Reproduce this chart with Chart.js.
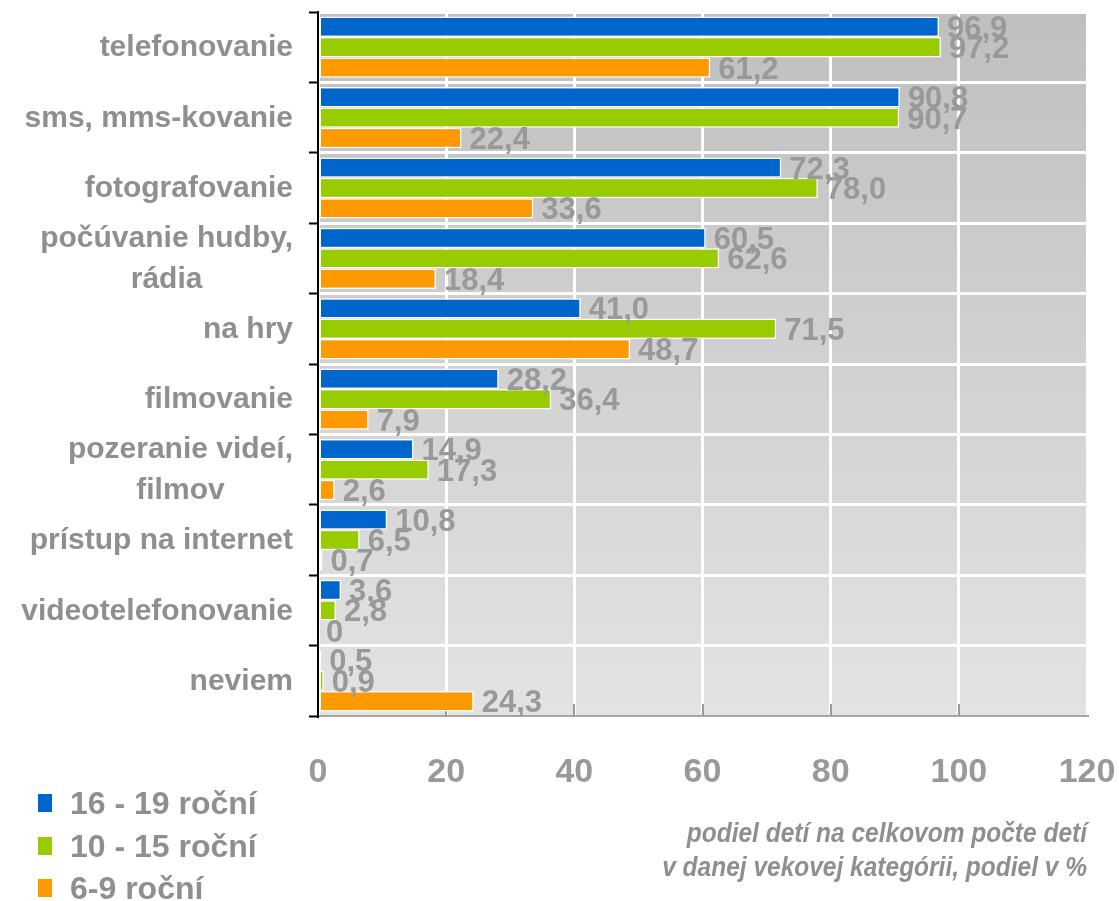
<!DOCTYPE html>
<html>
<head>
<meta charset="utf-8">
<script src="https://cdn.jsdelivr.net/npm/chart.js@4"></script>
<style>
  html, body { margin: 0; padding: 0; background: #fff; }
  canvas { display: block; }
</style>
</head>
<body>
<canvas id="chart" width="1119" height="901"></canvas>
<script>
// data
const categories = [
  'telefonovanie',
  'sms, mms-kovanie',
  'fotografovanie',
  ['počúvanie hudby,', 'rádia'],
  'na hry',
  'filmovanie',
  ['pozeranie videí,', 'filmov'],
  'prístup na internet',
  'videotelefonovanie',
  'neviem'
];
const seriesNames = ['16 - 19 roční', '10 - 15 roční', '6-9 roční'];
const age16to19 = [96.9, 90.8, 72.3, 60.5, 41.0, 28.2, 14.9, 10.8, 3.6, 0.5];
const age10to15 = [97.2, 90.7, 78.0, 62.6, 71.5, 36.4, 17.3, 6.5, 2.8, 0.9];
const age6to9 = [61.2, 22.4, 33.6, 18.4, 48.7, 7.9, 2.6, 0.7, 0, 24.3];
const xTicks = [0, 20, 40, 60, 80, 100, 120];
const axisTitle = ['podiel detí na celkovom počte detí', 'v danej vekovej kategórii, podiel v %'];

const colors = ['#0066cc', '#99cc00', '#ff9900'];
const GREY = '#8f8f8f';
const FONT = "'Liberation Sans', Arial, sans-serif";

const fmt = v => v === 0 ? '0' : v.toFixed(1).replace('.', ',');

// gradient behind the plot
const plotBackground = {
  id: 'plotBackground',
  beforeDraw(chart) {
    const { ctx, chartArea: a } = chart;
    const g = ctx.createLinearGradient(0, a.top, 0, a.bottom);
    g.addColorStop(0, '#bfbfbf');
    g.addColorStop(1, '#e3e3e3');
    ctx.save();
    ctx.fillStyle = g;
    ctx.fillRect(a.left, a.top, a.right - a.left, a.bottom - a.top);
    ctx.restore();
  },
  beforeDatasetsDraw(chart) {
    // small tick marks pointing up from the x axis
    const { ctx, chartArea: a } = chart;
    const x = chart.scales.x;
    ctx.save();
    ctx.strokeStyle = '#9a9a9a';
    ctx.lineWidth = 2;
    xTicks.slice(1, -1).forEach(v => {
      const px = Math.round(x.getPixelForValue(v));
      ctx.beginPath();
      ctx.moveTo(px, a.bottom);
      ctx.lineTo(px, a.bottom - 12);
      ctx.stroke();
    });
    ctx.restore();
  }
};

// value labels at the bar ends
const valueLabels = {
  id: 'valueLabels',
  afterDatasetsDraw(chart) {
    const ctx = chart.ctx;
    ctx.save();
    ctx.font = 'bold 31px ' + FONT;
    ctx.fillStyle = '#999999';
    ctx.textAlign = 'left';
    ctx.textBaseline = 'alphabetic';
    chart.data.datasets.forEach((ds, i) => {
      chart.getDatasetMeta(i).data.forEach((bar, j) => {
        ctx.fillText(fmt(ds.data[j]), bar.x + 8, bar.y + 11);
      });
    });
    ctx.restore();
  }
};

// category names, legend and axis title
const textBits = {
  id: 'textBits',
  afterDraw(chart) {
    const ctx = chart.ctx;
    const y = chart.scales.y;
    ctx.save();
    ctx.fillStyle = GREY;

    ctx.font = 'bold 30px ' + FONT;
    ctx.textAlign = 'center';
    ctx.textBaseline = 'middle';
    categories.forEach((c, i) => {
      const lines = Array.isArray(c) ? c : [c];
      const w = Math.max(...lines.map(l => ctx.measureText(l).width));
      const cx = 293 - w / 2;
      const cy = y.getPixelForValue(i) + 1;
      const lh = 41;
      lines.forEach((l, k) => {
        ctx.fillText(l, cx, cy + (k - (lines.length - 1) / 2) * lh);
      });
    });

    // legend
    const rows = [803, 846, 888];
    ctx.textAlign = 'left';
    ctx.textBaseline = 'alphabetic';
    ctx.font = 'bold 32px ' + FONT;
    seriesNames.forEach((n, i) => {
      ctx.fillStyle = colors[i];
      ctx.fillRect(38, rows[i] - 9, 14, 18);
      ctx.fillStyle = GREY;
      ctx.fillText(n, 70, rows[i] + 11);
    });

    // axis title, condensed by squeezing horizontally
    ctx.textAlign = 'right';
    ctx.font = 'italic bold 28px ' + FONT;
    const sx = 0.875;
    ctx.translate(1087, 0);
    ctx.scale(sx, 1);
    ctx.fillText(axisTitle[0], 0, 842);
    ctx.fillText(axisTitle[1], 0, 876);
    ctx.restore();
  }
};

new Chart(document.getElementById('chart'), {
  type: 'bar',
  data: {
    labels: categories,
    datasets: [age16to19, age10to15, age6to9].map((d, i) => ({
      label: seriesNames[i],
      data: d,
      backgroundColor: colors[i],
      borderColor: '#ffffff',
      borderWidth: 1.5,
      borderSkipped: false,
      categoryPercentage: 0.87,
      barPercentage: 1.0
    }))
  },
  options: {
    indexAxis: 'y',
    responsive: false,
    devicePixelRatio: 1,
    animation: false,
    layout: { padding: { top: 12, right: 32, left: 0, bottom: 0 } },
    plugins: { legend: { display: false }, tooltip: { enabled: false } },
    scales: {
      x: {
        min: 0,
        max: 120,
        afterBuildTicks: s => { s.ticks = xTicks.map(v => ({ value: v })); },
        afterFit: s => {
          s.height = 185;
          s.paddingLeft = 0;
          s.paddingRight = 0;
        },
        grid: { color: '#ffffff', lineWidth: 3, drawTicks: false },
        border: { color: '#a6a6a6', width: 2 },
        ticks: { padding: 36, color: '#999999', font: { family: FONT, size: 34, weight: 'bold' } }
      },
      y: {
        afterFit: s => { s.width = 318; },
        grid: {
          offset: true,
          lineWidth: 3,
          color: c => (c.index === categories.length) ? 'rgba(0,0,0,0)' : '#ffffff',
          tickLength: 9,
          tickColor: '#000000',
          tickWidth: 2
        },
        border: { color: '#000000', width: 2 },
        ticks: { display: false }
      }
    }
  },
  plugins: [plotBackground, valueLabels, textBits]
});
</script>
</body>
</html>
